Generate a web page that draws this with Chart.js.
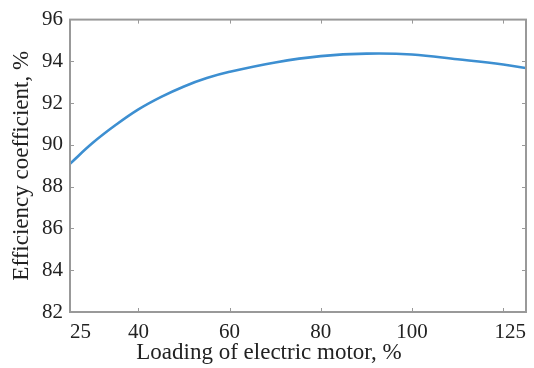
<!DOCTYPE html>
<html>
<head>
<meta charset="utf-8">
<script src="https://cdn.jsdelivr.net/npm/chart.js@4.4.1/dist/chart.umd.min.js"></script>
<style>
  html, body { margin: 0; padding: 0; background: #fff; }
  #wrap { width: 534px; height: 368px; position: relative; }
</style>
</head>
<body>
<div id="wrap"><canvas id="myChart"></canvas></div>
<script>
// load in %, efficiency in %
const loading = [25, 30, 35, 40, 45, 50, 55, 60, 70, 80, 90, 100, 110, 120, 125];
const efficiency = [89.1, 90.1, 90.95, 91.7, 92.3, 92.8, 93.2, 93.5, 93.95, 94.25, 94.37, 94.33, 94.1, 93.85, 93.68];

const xTicks = [25, 40, 60, 80, 100, 120, 125];
const xLabels = { 25: '25', 40: '40', 60: '60', 80: '80', 100: '100', 125: '125' };
const yMin = 82, yMax = 96, yStep = 2;

const xTitle = 'Loading of electric motor, %';
const yTitle = 'Efficiency coefficient, %';

const serif = '"Liberation Serif", "Times New Roman", serif';
const textColor = '#222';
const frameColor = '#999';

// box round the plot with small ticks pointing inward, plus axis titles
const framePlugin = {
  id: 'frame',
  afterDraw(chart) {
    const ctx = chart.ctx;
    const a = chart.chartArea;
    const xs = chart.scales.x, ys = chart.scales.y;
    ctx.save();
    ctx.strokeStyle = frameColor;
    ctx.lineWidth = 2;
    ctx.strokeRect(a.left, a.top, a.right - a.left, a.bottom - a.top);

    ctx.lineWidth = 1;
    ctx.beginPath();
    xTicks.forEach(v => {
      if (v === 25 || v === 125) return;
      const px = Math.round(xs.getPixelForValue(v)) + 0.5;
      ctx.moveTo(px, a.bottom); ctx.lineTo(px, a.bottom - 4);
      ctx.moveTo(px, a.top); ctx.lineTo(px, a.top + 4);
    });
    for (let v = yMin + yStep; v < yMax; v += yStep) {
      const py = Math.round(ys.getPixelForValue(v)) + 0.5;
      ctx.moveTo(a.left, py); ctx.lineTo(a.left + 4, py);
      ctx.moveTo(a.right, py); ctx.lineTo(a.right - 4, py);
    }
    ctx.stroke();

    ctx.fillStyle = textColor;
    ctx.font = '23px ' + serif;
    ctx.textAlign = 'center';
    ctx.textBaseline = 'middle';
    ctx.fillText(xTitle, 269, 353);
    ctx.translate(22, (a.top + a.bottom) / 2);
    ctx.rotate(-Math.PI / 2);
    ctx.fillText(yTitle, 0, 0);
    ctx.restore();
  }
};

const data = {
  datasets: [{
    label: 'Efficiency',
    data: loading.map((x, i) => ({ x: x, y: efficiency[i] })),
    borderColor: '#3d8fd1',
    borderWidth: 2.6,
    pointRadius: 0,
    tension: 0.4,
    fill: false
  }]
};

const config = {
  type: 'line',
  data: data,
  options: {
    responsive: true,
    maintainAspectRatio: false,
    animation: false,
    layout: { padding: { left: 0, right: 7, top: 17, bottom: 0 } },
    plugins: { legend: { display: false }, tooltip: { enabled: false } },
    scales: {
      x: {
        type: 'linear',
        min: 25,
        max: 125,
        afterBuildTicks: scale => { scale.ticks = xTicks.map(v => ({ value: v })); },
        afterFit: scale => { scale.height = 56; },
        grid: { display: false, drawTicks: false },
        border: { display: false },
        ticks: {
          align: 'inner',
          autoSkip: false,
          maxRotation: 0,
          padding: 8,
          color: textColor,
          font: { family: serif, size: 21 },
          callback: v => xLabels[v] || ''
        }
      },
      y: {
        min: yMin,
        max: yMax,
        afterFit: scale => { scale.width = 70; },
        grid: { display: false, drawTicks: false },
        border: { display: false },
        ticks: {
          stepSize: yStep,
          padding: 7,
          color: textColor,
          font: { family: serif, size: 21 }
        }
      }
    }
  },
  plugins: [framePlugin]
};

new Chart(document.getElementById('myChart').getContext('2d'), config);
</script>
</body>
</html>
